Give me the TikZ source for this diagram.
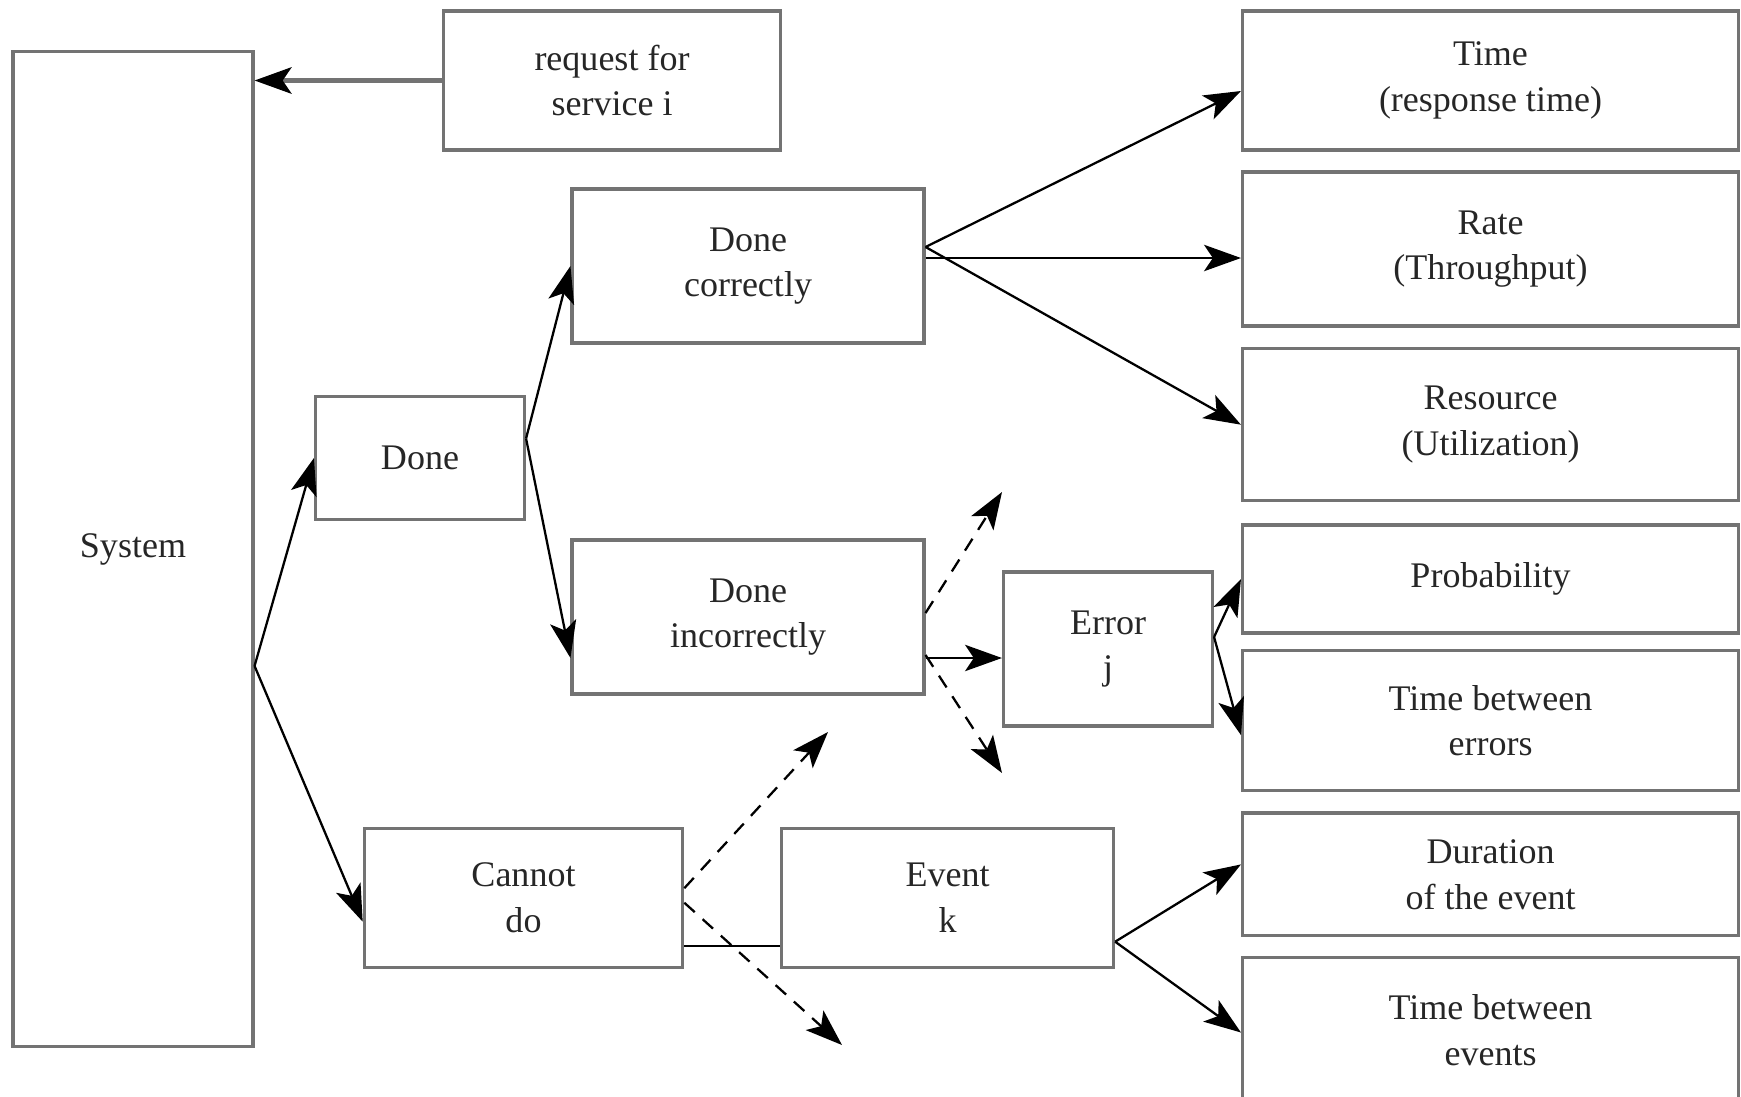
\documentclass[tikz,border=0pt]{standalone}
\usepackage{fontspec}
\setmainfont{Liberation Serif}
\usetikzlibrary{arrows.meta}

\begin{document}
\begin{tikzpicture}[
  x=0.02cm, y=-0.02cm,
  box/.style={draw=black!55, line width=1.8pt, align=center, inner sep=0pt,
    text=black!85, font=\fontsize{20.5}{26}\selectfont},
  measure/.style={box, minimum width=9.92cm},
  link/.style={line width=1.3pt, -{Stealth[length=21pt, width=15pt, inset=5pt]}},
  branch/.style={link, dash pattern=on 8pt off 6pt},
  plain/.style={line width=1.3pt}
]
  \useasboundingbox (0,0) rectangle (1741,1096);

  % Left part: system and what happens to a request
  \node[box, minimum width=4.8cm, minimum height=19.92cm] (sys) at (133,549) {System};
  \node[box, minimum width=6.73cm, minimum height=2.78cm] (req) at (612,80.5) {request for\\service i};
  \node[box, minimum width=4.18cm, minimum height=2.46cm] (done) at (420,458) {Done};
  \node[box, minimum width=7.04cm, minimum height=3.08cm] (correct) at (748,266) {Done\\correctly};
  \node[box, minimum width=7.04cm, minimum height=3.08cm] (incorrect) at (748,617) {Done\\incorrectly};
  \node[box, minimum width=4.18cm, minimum height=3.08cm] (err) at (1108,649) {Error\\j};
  \node[box, minimum width=6.37cm, minimum height=2.78cm] (cannot) at (523.5,897.7) {Cannot\\do};
  \node[box, minimum width=6.64cm, minimum height=2.78cm] (event) at (947.6,897.7) {Event\\k};

  % Right column: the metrics
  \node[measure, minimum height=2.78cm] (time) at (1490.5,80.5) {Time\\(response time)};
  \node[measure, minimum height=3.08cm] (rate) at (1490.5,249) {Rate\\(Throughput)};
  \node[measure, minimum height=3.04cm] (res) at (1490.5,424.7) {Resource\\(Utilization)};
  \node[measure, minimum height=2.16cm] (prob) at (1490.5,579) {Probability};
  \node[measure, minimum height=2.80cm] (tberr) at (1490.5,720.6) {Time between\\errors};
  \node[measure, minimum height=2.46cm] (dur) at (1490.5,874.4) {Duration\\of the event};
  \node[measure, minimum height=2.90cm] (tbev) at (1490.5,1030) {Time between\\events};

  % Points where the connectors leave the boxes
  \coordinate (sysout) at ([yshift=-2.34cm]sys.east);
  \coordinate (doneout) at ([yshift=0.39cm]done.east);
  \coordinate (corrout) at ([yshift=0.38cm]correct.east);
  \coordinate (rateout) at ([yshift=0.16cm]correct.east);
  \coordinate (incup) at ([yshift=0.08cm]incorrect.east);
  \coordinate (incdown) at ([yshift=-0.76cm]incorrect.east);
  \coordinate (incerr) at ([yshift=-0.82cm]incorrect.east);
  \coordinate (errout) at ([yshift=0.24cm]err.east);
  \coordinate (canup) at ([yshift=0.19cm]cannot.east);
  \coordinate (candown) at ([yshift=-0.1cm]cannot.east);
  \coordinate (canev) at ([yshift=-0.97cm]cannot.east);
  \coordinate (evout) at ([yshift=-0.88cm]event.east);

  % Free ends of the dashed branches
  \coordinate (incupend) at (1002,492);
  \coordinate (incdownend) at (1002,773);
  \coordinate (canupend) at (828,732);
  \coordinate (candownend) at (842,1045);

  % Request into the system
  \draw[link, line width=2.6pt, black!55, -{Stealth[length=21pt, width=15pt, inset=5pt, black]}]
    (req.west) -- (req.west -| sys.east);

  % System branches
  \draw[link] (sysout) -- (done.west);
  \draw[link] (sysout) -- ([yshift=-0.48cm]cannot.west);
  \draw[link] (doneout) -- (correct.west);
  \draw[link] (doneout) -- ([yshift=-0.82cm]incorrect.west);

  % Done correctly
  \draw[link] (corrout) -- ([yshift=-0.21cm]time.west);
  \draw[link] (rateout) -- (rateout -| rate.west);
  \draw[link] (corrout) -- (res.west);

  % Done incorrectly
  \draw[branch] (incup) -- (incupend);
  \draw[link] (incerr) -- (incerr -| err.west);
  \draw[branch] (incdown) -- (incdownend);
  \draw[link] (errout) -- (prob.west);
  \draw[link] (errout) -- ([yshift=-0.29cm]tberr.west);

  % Cannot do
  \draw[branch] (canup) -- (canupend);
  \draw[branch] (candown) -- (candownend);
  \draw[plain] (canev) -- (canev -| event.west);
  \draw[link] (evout) -- ([yshift=0.2cm]dur.west);
  \draw[link] (evout) -- ([yshift=-0.05cm]tbev.west);

\end{tikzpicture}
\end{document}
